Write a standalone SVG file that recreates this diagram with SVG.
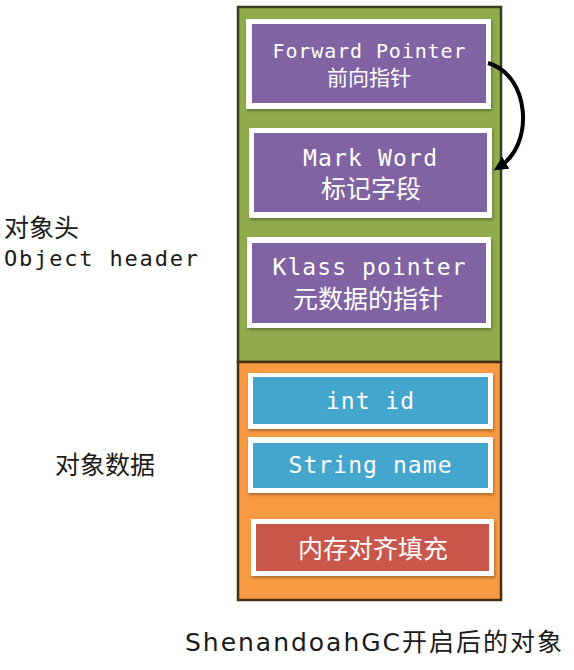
<svg xmlns="http://www.w3.org/2000/svg" width="574" height="670" viewBox="0 0 574 670">
<defs>
<style>
.mono{font-family:"DejaVu Sans Mono","Liberation Mono",monospace;fill:#ffffff;text-anchor:middle}
.cjk{font-family:"Noto Sans CJK SC","Noto Sans",sans-serif;fill:#ffffff;text-anchor:middle}
.lab{font-family:"Noto Sans CJK SC","Noto Sans",sans-serif;fill:#1a1a1a}
.cap{font-family:"DejaVu Sans","Noto Sans CJK SC",sans-serif;fill:#1a1a1a}
.labm{font-family:"DejaVu Sans Mono","Liberation Mono",monospace;fill:#1a1a1a}
.card{fill:#ffffff;filter:url(#sh)}
.purple{fill:#7f63a2}
.blue{fill:#44a5cd}
.red{fill:#c9564a}
.conn{fill:none;stroke:#000000;stroke-width:4}
</style>
<filter id="sh" x="-10%" y="-20%" width="120%" height="140%">
<feDropShadow dx="1" dy="2" stdDeviation="1.5" flood-color="#000000" flood-opacity="0.3"/>
</filter>
<marker id="ah" markerWidth="16" markerHeight="16" refX="8" refY="7" orient="auto" markerUnits="userSpaceOnUse">
<path d="M0,0 L14,7 L0,14 Z" fill="#000000"/>
</marker>
</defs>
<rect width="574" height="670" fill="#ffffff"/>

<g id="header-region">
<rect x="238" y="7" width="263" height="355" fill="#8fab4c" stroke="#3a3a1e" stroke-width="2.5"/>
</g>
<g id="data-region">
<rect x="238" y="362" width="263" height="238" fill="#f89a42" stroke="#4a2e12" stroke-width="2.5"/>
</g>

<g id="forward-pointer">
<rect class="card" x="246" y="19" width="245" height="90"/>
<rect class="purple" x="252" y="24" width="234" height="79"/>
<text class="mono" x="369" y="58" font-size="20" textLength="193">Forward Pointer</text>
<text class="cjk" x="369" y="85" font-size="21">前向指针</text>
</g>

<g id="mark-word">
<rect class="card" x="249" y="128" width="243" height="90"/>
<rect class="purple" x="254" y="133" width="233" height="79"/>
<text class="mono" x="370" y="166" font-size="23" textLength="134">Mark Word</text>
<text class="cjk" x="371" y="198" font-size="25">标记字段</text>
</g>

<g id="klass-pointer">
<rect class="card" x="247" y="237" width="244" height="91"/>
<rect class="purple" x="252" y="243" width="234" height="80"/>
<text class="mono" x="369" y="275" font-size="23" textLength="193">Klass pointer</text>
<text class="cjk" x="368" y="308" font-size="25">元数据的指针</text>
</g>

<g id="int-id">
<rect class="card" x="248" y="373" width="245" height="56"/>
<rect class="blue" x="253" y="377" width="235" height="47"/>
<text class="mono" x="370" y="409" font-size="23" textLength="88">int id</text>
</g>

<g id="string-name">
<rect class="card" x="248" y="437" width="245" height="56"/>
<rect class="blue" x="253" y="443" width="235" height="45"/>
<text class="mono" x="370" y="473" font-size="23" textLength="163">String name</text>
</g>

<g id="padding">
<rect class="card" x="251" y="519" width="243" height="57"/>
<rect class="red" x="256" y="524" width="233" height="47"/>
<text class="cjk" x="373" y="558" font-size="25">内存对齐填充</text>
</g>

<g id="labels">
<text class="lab" x="4" y="237" font-size="25">对象头</text>
<text class="labm" x="4" y="266" font-size="22" textLength="194">Object header</text>
<text class="lab" x="55" y="474" font-size="25">对象数据</text>
<text class="cap" x="185" y="651" font-size="25" textLength="377">ShenandoahGC开启后的对象</text>
</g>

<g id="connectors">
<path class="conn" d="M488,63 C530,75 535,145 499,167" marker-end="url(#ah)"/>
</g>
</svg>
